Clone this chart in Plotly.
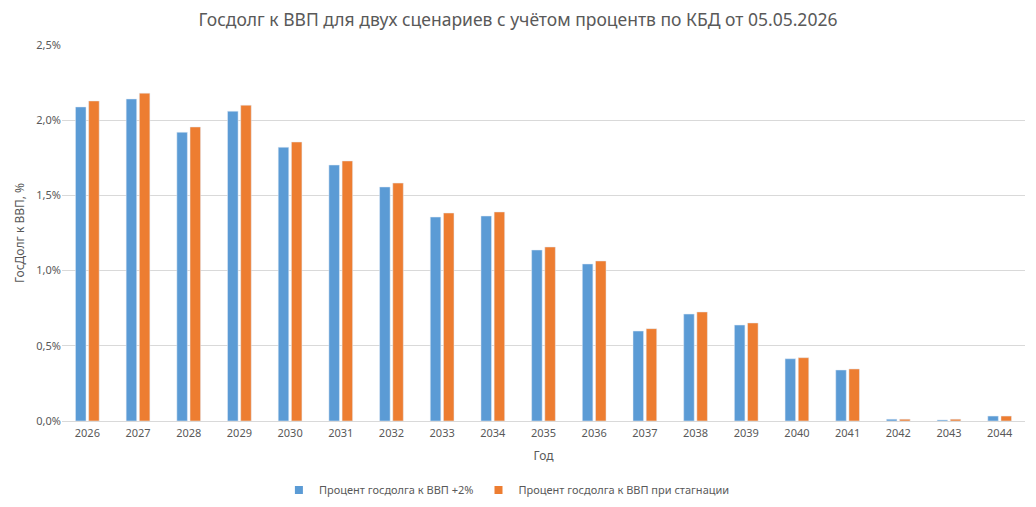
import plotly.graph_objects as go

years = [str(y) for y in range(2026, 2045)]
growth = [2.088, 2.141, 1.920, 2.060, 1.820, 1.702, 1.556, 1.356, 1.363, 1.137,
          1.044, 0.598, 0.711, 0.638, 0.414, 0.339, 0.012, 0.007, 0.033]
stagnation = [2.128, 2.180, 1.955, 2.100, 1.855, 1.729, 1.582, 1.383, 1.390, 1.157,
              1.064, 0.614, 0.725, 0.652, 0.421, 0.346, 0.012, 0.012, 0.033]

name1 = "Процент госдолга к ВВП +2%"
name2 = "Процент госдолга к ВВП при стагнации"
colors = ["#5B9BD5", "#ED7D31"]

font = "Noto Sans"
grey = "#595959"

fig = go.Figure()
fig.add_trace(go.Bar(x=years, y=growth, name=name1, marker_color=colors[0], showlegend=False))
fig.add_trace(go.Bar(x=years, y=stagnation, name=name2, marker_color=colors[1], showlegend=False))
# legend entries with small square symbols
for nm, c in zip([name1, name2], colors):
    fig.add_trace(go.Scatter(x=[None], y=[None], mode="markers", name=nm,
                             marker=dict(symbol="square", size=8, color=c)))

# page body has an 8px default margin, so the figure is sized to fit the window
fig.update_layout(
    width=1020, height=491,
    paper_bgcolor="white", plot_bgcolor="white",
    margin=dict(l=54, r=3, t=37, b=78, autoexpand=False),
    barmode="group", bargap=0.48, bargroupgap=0.2,
    separators=", ",
    font=dict(family=font, color=grey, size=11),
    title=dict(text="Госдолг к ВВП для двух сценариев с учётом процентв по КБД от 05.05.2026",
               x=0.5, xanchor="center", y=0.976, yanchor="middle",
               font=dict(size=17.5, color=grey, family=font)),
    legend=dict(orientation="h", x=0.462, xanchor="center",
                y=-0.1835, yanchor="middle",
                font=dict(size=11, color=grey), itemwidth=30, tracegroupgap=0),
    xaxis=dict(title=dict(text="Год", font=dict(size=12, color=grey), standoff=12),
               tickfont=dict(size=11, color=grey), showline=True, linecolor="#D9D9D9",
               ticks="", showgrid=False, automargin=False, ticklabelstandoff=2),
    yaxis=dict(title=dict(text="ГосДолг к ВВП, %", font=dict(size=12, color=grey), standoff=9),
               range=[0, 2.5], dtick=0.5, tickformat=".1f", ticksuffix="%",
               tickfont=dict(size=11, color=grey), gridcolor="#D9D9D9", zeroline=False,
               showline=False, automargin=False),
)

fig.write_html("out.html")
